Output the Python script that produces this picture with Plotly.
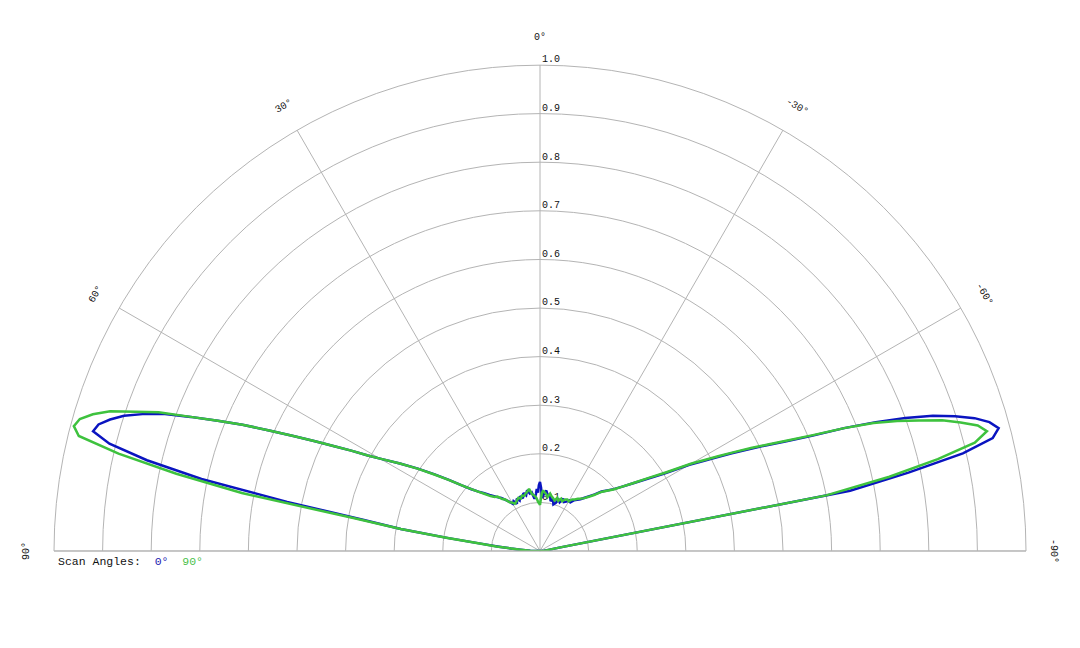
import numpy as np
import plotly.graph_objects as go

# --- Normalised pattern for the two scan angles (theta in deg, 0 = broadside) ---
theta = [-90, -88, -86, -84, -82, -80,
         -79, -78, -77, -76, -75, -74, -73, -72, -71, -70,
         -69, -68, -67, -66, -65, -64, -63, -62, -61, -60,
         -58, -56, -54, -52, -50, -48, -46, -44, -42, -40,
         -38, -36, -34, -32, -30, -28, -26, -24, -22, -20,
         -18, -16, -14, -12, -10, -8, -6, -4,
         -3, -2, -1, 0, 1, 2, 3,
         4, 6, 8, 10, 12, 14, 16, 18, 20, 22,
         24, 26, 28, 30, 32, 34, 36, 38, 40, 42,
         44, 46, 48, 50, 52, 54, 56, 58,
         60, 61, 62, 63, 64, 65, 66, 67, 68, 69,
         70, 71, 72, 73, 74, 75, 76, 77, 78, 79,
         80, 81, 82, 83, 84, 85, 86, 88, 90]

# scan angle 0 deg (blue)
gain0 = [0.0, 0.004, 0.008, 0.012, 0.02, 0.04,
         0.65, 0.775, 0.893, 0.96, 0.977, 0.962, 0.935, 0.898, 0.855, 0.80,
         0.74, 0.675, 0.605, 0.555, 0.515, 0.478, 0.443, 0.41, 0.38, 0.355,
         0.30, 0.265, 0.237, 0.215, 0.198, 0.186, 0.176, 0.162, 0.152, 0.143,
         0.135, 0.13, 0.126, 0.118, 0.12, 0.115, 0.112, 0.118, 0.108, 0.112,
         0.104, 0.10, 0.11, 0.105, 0.118, 0.115, 0.125, 0.118,
         0.112, 0.11, 0.13, 0.142, 0.135, 0.12, 0.128,
         0.118, 0.108, 0.122, 0.12, 0.128, 0.118, 0.124, 0.114, 0.12, 0.112,
         0.118, 0.108, 0.116, 0.112, 0.12, 0.127, 0.135, 0.14, 0.147, 0.155,
         0.165, 0.176, 0.19, 0.21, 0.238, 0.268, 0.303, 0.34,
         0.38, 0.405, 0.44, 0.475, 0.515, 0.56, 0.61, 0.665, 0.715, 0.77,
         0.826, 0.865, 0.90, 0.925, 0.945, 0.952, 0.913, 0.83, 0.712, 0.53,
         0.37, 0.29, 0.19, 0.12, 0.085, 0.06, 0.04, 0.02, 0.0]

# scan angle 90 deg (green)
gain90 = [0.0, 0.004, 0.008, 0.012, 0.02, 0.04,
          0.60, 0.735, 0.84, 0.922, 0.952, 0.937, 0.905, 0.87, 0.825, 0.782,
          0.735, 0.675, 0.61, 0.56, 0.52, 0.483, 0.448, 0.415, 0.385, 0.36,
          0.305, 0.268, 0.238, 0.215, 0.197, 0.185, 0.175, 0.16, 0.15, 0.142,
          0.137, 0.133, 0.128, 0.125, 0.118, 0.12, 0.118, 0.112, 0.116, 0.11,
          0.115, 0.108, 0.112, 0.115, 0.12, 0.112, 0.118, 0.122,
          0.125, 0.12, 0.108, 0.095, 0.098, 0.10, 0.105,
          0.11, 0.115, 0.118, 0.13, 0.125, 0.122, 0.118, 0.12, 0.115, 0.118,
          0.115, 0.112, 0.11, 0.115, 0.118, 0.128, 0.132, 0.142, 0.145, 0.152,
          0.163, 0.175, 0.19, 0.21, 0.237, 0.267, 0.302, 0.34,
          0.38, 0.405, 0.44, 0.475, 0.515, 0.56, 0.61, 0.665, 0.715, 0.77,
          0.835, 0.88, 0.93, 0.962, 0.985, 0.993, 0.978, 0.89, 0.765, 0.625,
          0.39, 0.29, 0.195, 0.125, 0.09, 0.06, 0.04, 0.02, 0.0]

radialTicks = [0.1, 0.2, 0.3, 0.4, 0.5, 0.6, 0.7, 0.8, 0.9, 1.0]
radialLabels = ['0.1', '0.2', '0.3', '0.4', '0.5', '0.6', '0.7', '0.8', '0.9', '1.0']
angleTicks = [90, 60, 30, 0, -30, -60, -90]
angleLabels = ['90°', '60°', '30°', '0°', '-30°', '-60°', '-90°']

# Layout settings (page body adds an 8px offset, so the domain is nudged up/left)
W, H = 1080, 648
off = 8
domX = [0.05 - off / W, 0.95 - off / W]
domY = [0.1497 + off / H, 0.8997 + off / H]
font = 'Liberation Mono, Courier New, monospace'
gridCol = '#b4b4b4'
col0 = '#0a14c0'
col90 = '#3ec23e'

fig = go.Figure()

# radial tick labels drawn underneath the data
fig.add_trace(go.Scatterpolar(r=radialTicks, theta=[0] * len(radialTicks), mode='text',
                              text=['\u2009' + s for s in radialLabels], textposition='top right',
                              textfont=dict(family=font, size=10, color='#111'),
                              cliponaxis=False, showlegend=False, hoverinfo='skip'))

fig.add_trace(go.Scatterpolar(r=gain0, theta=theta, mode='lines', name='0°',
                              line=dict(color=col0, width=2.5), showlegend=False))
fig.add_trace(go.Scatterpolar(r=gain90, theta=theta, mode='lines', name='90°',
                              line=dict(color=col90, width=2.5), showlegend=False))

# angular tick labels, rotated along the rim
cx = (domX[0] + domX[1]) / 2 * W
cy = (1 - domY[0]) * H
R = (domY[1] - domY[0]) * H
rl = R + 27
annotations = []
for a, lab in zip(angleTicks, angleLabels):
    t = np.radians(a)
    px = cx - rl * np.sin(t)
    py = cy - rl * np.cos(t)
    annotations.append(dict(x=px / W, y=1 - py / H, xref='paper', yref='paper',
                            text=lab, showarrow=False, textangle=-a,
                            font=dict(family=font, size=10, color='#111'),
                            xanchor='center', yanchor='middle'))

# legend line under the baseline
annotations.append(dict(x=(56 - off) / W, y=1 - (561 - off) / H, xref='paper', yref='paper',
                        xanchor='left', yanchor='middle', showarrow=False,
                        text='Scan Angles:\u00a0\u00a0<span style="color:%s">0°</span>'
                             '\u00a0\u00a0<span style="color:%s">90°</span>' % ('#1a1ab0', '#4cbf4c'),
                        font=dict(family=font, size=11.5, color='#111')))

fig.update_layout(
    width=W, height=H,
    margin=dict(l=0, r=0, t=0, b=0),
    paper_bgcolor='white',
    plot_bgcolor='white',
    showlegend=False,
    annotations=annotations,
    polar=dict(
        domain=dict(x=domX, y=domY),
        sector=[0, 180],
        bgcolor='white',
        radialaxis=dict(range=[0, 1], tickvals=radialTicks, showticklabels=False,
                        ticks='', showline=False, gridcolor=gridCol, gridwidth=1),
        angularaxis=dict(rotation=90, direction='counterclockwise',
                         tickmode='array', tickvals=angleTicks, showticklabels=False,
                         ticks='', showline=True, linecolor=gridCol, linewidth=1,
                         gridcolor=gridCol, gridwidth=1),
    ),
)

fig.write_html("out.html")
